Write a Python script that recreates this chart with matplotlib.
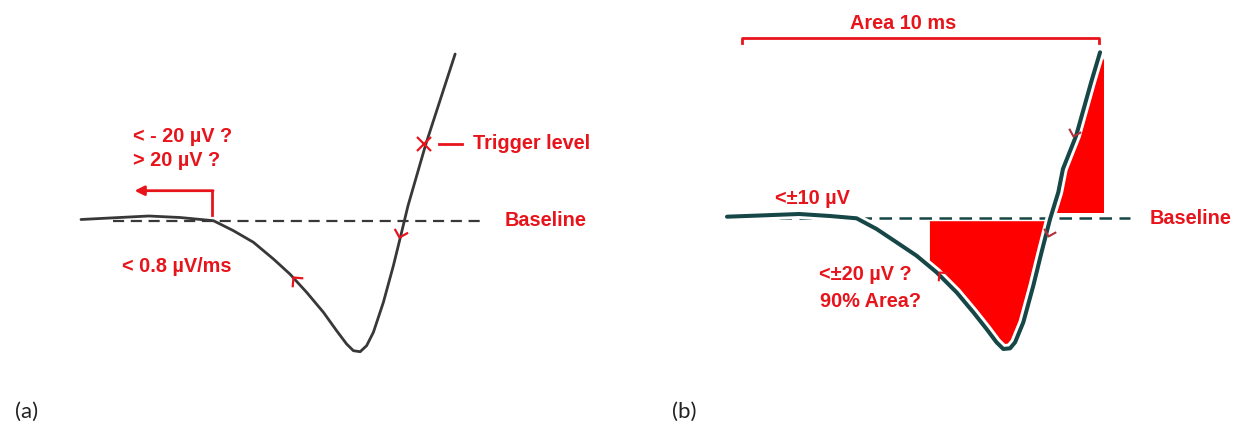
import numpy as np
import matplotlib
matplotlib.use("Agg")
import matplotlib.pyplot as plt
from matplotlib.markers import MarkerStyle
from matplotlib.path import Path
from matplotlib.transforms import Affine2D

# ---------------- data (time in ms, amplitude in µV) ----------------
# panel (a) waveform
t_a = [0.00, 0.81, 1.90, 2.77, 3.71, 4.27, 4.83, 5.39, 5.85, 6.32, 6.79,
       7.16, 7.44, 7.63, 7.82, 8.00, 8.19, 8.47, 8.75, 8.98, 9.16, 9.66, 10.48]
v_a = [0.25, 1.0, 2.0, 1.25, -0.35, -5.35, -11.15, -19.5, -27.0, -36.15, -46.15,
       -55.35, -62.0, -65.35, -65.85, -62.85, -56.15, -41.15, -22.85, -6.15, 7.15,
       38.0, 83.0]
# panel (b) waveform
t_b = [-0.42, 0.50, 1.60, 2.46, 3.21, 3.77, 4.33, 4.89, 5.45, 6.01, 6.48,
       6.85, 7.13, 7.32, 7.51, 7.65, 7.88, 8.16, 8.39, 8.63, 8.86, 8.99, 9.36,
       9.78, 10.03]
v_b = [0.15, 0.75, 1.5, 0.5, -0.65, -6.0, -12.65, -19.35, -27.65, -37.65, -47.65,
       -56.0, -62.65, -66.0, -65.65, -62.65, -52.65, -34.35, -17.65, -1.0, 12.35,
       24.0, 40.65, 67.35, 82.35]

baseline_a = [0.91, 11.31]
baseline_b = [0.48, 10.87]
baseline_level = -0.4

trigger_level = 38.0            # µV
area_window = [0.0, 10.0]       # ms
neg_fill_start = 5.25           # ms
neg_fill_top = -1.85            # µV
pos_fill_bottom = 2.0           # µV
pos_fill_end = 10.14            # ms

RED = "#e8141c"
FILL = "#ff0000"
GRAY = "#383838"
TEAL = "#164646"

fig = plt.figure(figsize=(12.45, 4.39), dpi=100)
fig.patch.set_facecolor("white")
ax_a = fig.add_axes([0, 0, 622 / 1245, 1])
ax_b = fig.add_axes([622 / 1245, 0, 623 / 1245, 1])
ax_a.set_xlim(-2.269, 15.154)
ax_a.set_ylim(-109, 110.5)
ax_b.set_xlim(-3.361, 14.090)
ax_b.set_ylim(-110.5, 109)
for ax in (ax_a, ax_b):
    ax.axis("off")

txt = dict(color=RED, fontsize=14.3, fontweight="bold", family="Liberation Sans",
           va="center", ha="left")


def chevron(angle):
    p = Path([(-1, 1), (0, 0), (1, 1)], [Path.MOVETO, Path.LINETO, Path.LINETO])
    return MarkerStyle(p, fillstyle="none", transform=Affine2D().rotate_deg(angle))


# ---------------- panel (a) ----------------
ax_a.plot(baseline_a, [baseline_level] * 2, color=GRAY, lw=1.6, ls=(0, (5, 3)))
ax_a.plot(t_a, v_a, color=GRAY, lw=2.0, solid_joinstyle="round", solid_capstyle="round")
# elbow arrow
ax_a.plot([3.66, 3.66], [2.5, 14.65], color=RED, lw=2.0)
ax_a.annotate("", xy=(1.5, 14.65), xytext=(3.70, 14.65),
              arrowprops=dict(arrowstyle="-|>", color=RED, lw=2.0, mutation_scale=14,
                              shrinkA=0, shrinkB=0))
ax_a.text(1.46, 42.15, "< - 20 µV ?", **txt)
ax_a.text(1.46, 30.5, "> 20 µV ?", **txt)
ax_a.text(1.14, -22.85, "< 0.8 µV/ms", **txt)
ax_a.text(10.97, 38.85, "Trigger level", **txt)
ax_a.text(11.87, 0.0, "Baseline", **txt)
ax_a.plot([10.02, 10.67], [trigger_level, trigger_level], color=RED, lw=2.0)
ax_a.plot([9.61], [trigger_level], marker="x", ms=10, mew=1.6, color=RED)
ax_a.plot([8.92], [-8.65], marker=chevron(-16), ms=10, mew=1.6, color=RED)
ax_a.plot([5.95], [-28.65], marker=chevron(220), ms=10, mew=1.6, color=RED)

# ---------------- panel (b) ----------------
tb = np.array(t_b)
vb = np.array(v_b)
tt = np.linspace(neg_fill_start, 8.7, 400)
vv = np.interp(tt, tb, vb)
ax_b.fill_between(tt, vv, neg_fill_top, where=vv < neg_fill_top, color=FILL, lw=0)
i_min = int(np.argmin(vb))
t_cross = np.interp(pos_fill_bottom, vb[i_min:], tb[i_min:])
sel = vb >= pos_fill_bottom
poly_t = [t_cross] + list(tb[sel]) + [pos_fill_end, pos_fill_end]
poly_v = [pos_fill_bottom] + list(vb[sel]) + [vb[-1] - 4, pos_fill_bottom]
ax_b.fill(poly_t, poly_v, color=FILL, lw=0)

ax_b.plot(baseline_b, [baseline_level] * 2, color=TEAL, lw=1.8, ls=(0, (5, 3)))
ax_b.plot(t_b, v_b, color="white", lw=7.0, solid_joinstyle="round", solid_capstyle="round")
ax_b.plot(t_b, v_b, color=TEAL, lw=2.9, solid_joinstyle="round", solid_capstyle="round")

# area bracket
ax_b.plot([area_window[0], area_window[0], area_window[1], area_window[1]],
          [86.8, 89.35, 89.35, 86.8], color=RED, lw=2.0)
ax_b.text(4.51, 97.35, "Area 10 ms", **{**txt, "ha": "center"})
ax_b.text(0.92, 9.85, "<±10 µV", **txt)
ax_b.text(11.43, -0.15, "Baseline", **txt)
ax_b.text(3.45, -28.5, "<±20 µV ?", **{**txt, "ha": "center"})
ax_b.text(3.6, -41.85, "90% Area?", **{**txt, "ha": "center"})
ax_b.plot([5.53], [-27.65], marker=chevron(220), ms=9, mew=1.5, color=RED)
ax_b.plot([9.27], [40.65], marker=chevron(-16), ms=9, mew=1.5, color="#b0303a")
ax_b.plot([8.56], [-9.35], marker=chevron(-16), ms=9, mew=1.5, color="#b0303a")

fig.text(15 / 1245, 1 - 412 / 439, "(a)", fontsize=16, family="Lato", va="center", color="#222222")
fig.text(672 / 1245, 1 - 412 / 439, "(b)", fontsize=16, family="Lato", va="center", color="#222222")

fig.savefig("out.png", dpi=100, facecolor="white")
